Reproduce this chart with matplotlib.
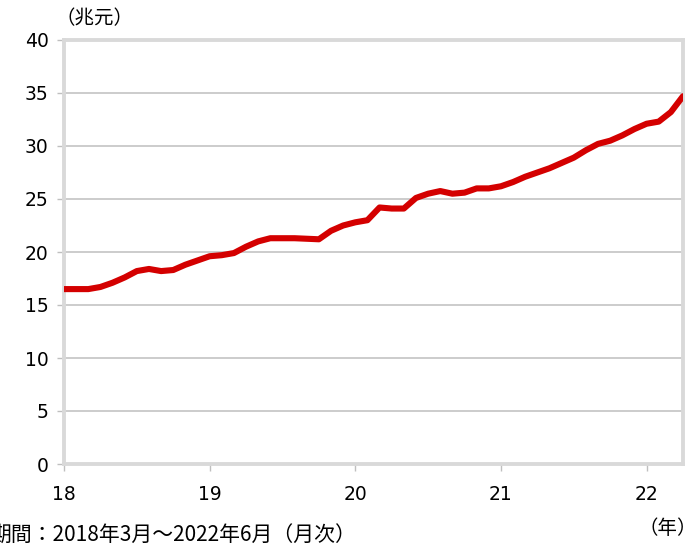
import matplotlib
matplotlib.use("Agg")
import matplotlib.pyplot as plt

plt.rcParams['font.family'] = ['DejaVu Sans', 'Noto Sans CJK JP']

# monthly values, Mar 2018 - Jun 2022 (trillion yuan)
values = [
    16.5, 16.5, 16.5, 16.7, 17.1, 17.6, 18.2, 18.4, 18.2, 18.3,
    18.8, 19.2, 19.6, 19.7, 19.9, 20.5, 21.0, 21.3, 21.3, 21.3,
    21.25, 21.2, 22.0, 22.5, 22.8, 23.0, 24.2, 24.1, 24.1, 25.1,
    25.5, 25.75, 25.5, 25.6, 26.0, 26.0, 26.2, 26.6, 27.1, 27.5,
    27.9, 28.4, 28.9, 29.6, 30.2, 30.5, 31.0, 31.6, 32.1, 32.3,
    33.2, 34.7,
]
tick_pos = [0, 12, 24, 36, 48]
tick_labels = ["18", "19", "20", "21", "22"]
y_ticks = [0, 5, 10, 15, 20, 25, 30, 35, 40]

cjk = ['Noto Sans CJK JP', 'DejaVu Sans']

fig = plt.figure(figsize=(7, 5.44), dpi=100)
ax = fig.add_axes([64/700, 80/544, 619/700, 424/544])

x = list(range(len(values)))
ax.plot(x, values, color='#d40000', lw=4.4, solid_capstyle='round', zorder=3)

ax.set_xlim(0, len(values) - 1)
ax.set_ylim(0, 40)
ax.set_yticks(y_ticks)
ax.set_xticks(tick_pos)
ax.set_xticklabels(tick_labels)
ax.grid(axis='y', color='#c8c8c8', lw=1.3)
for s in ax.spines.values():
    s.set_color('#d9d9d9')
    s.set_linewidth(2.8)
ax.tick_params(axis='both', colors='#bfbfbf', labelcolor='black', labelsize=13.5, length=5, width=1)
ax.tick_params(axis='x', pad=10)
ax.tick_params(axis='y', pad=6)

# unit labels and period note
fig.text(95/700, 1 - 19/544, "（兆元）", fontsize=14, va='center', ha='center', family=cjk)
fig.text(697/700, 1 - 528/544, "（年）", fontsize=14, va='center', ha='right', family=cjk)
fig.text(-10/700, 1 - 536/544, "期間：2018年3月～2022年6月（月次）", fontsize=15,
         va='center', ha='left', family=cjk)

fig.savefig("out.png", dpi=100)
